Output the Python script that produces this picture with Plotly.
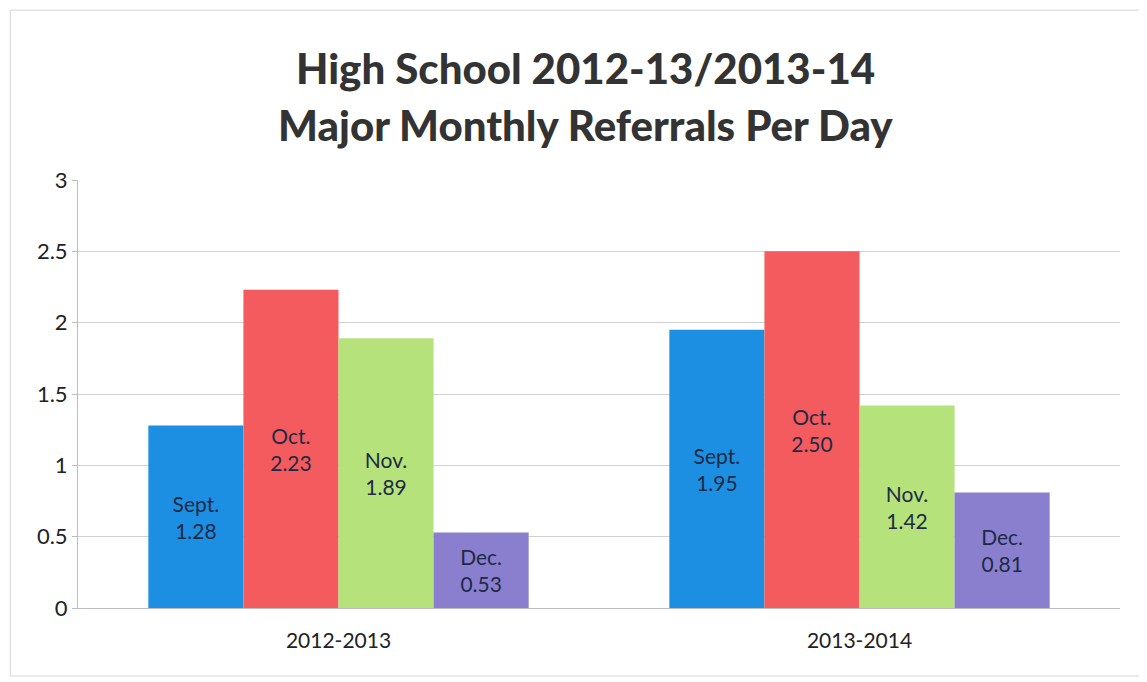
import plotly.graph_objects as go

years = ["2012-2013", "2013-2014"]
months = ["Sept.", "Oct.", "Nov.", "Dec."]
values = {
    "Sept.": [1.28, 1.95],
    "Oct.": [2.23, 2.50],
    "Nov.": [1.89, 1.42],
    "Dec.": [0.53, 0.81],
}
colors = ["#1c8fe2", "#f45b5e", "#b6e27c", "#8a7fcf"]
y_ticks = [0, 0.5, 1, 1.5, 2, 2.5, 3]
title_lines = ["High School 2012-13/2013-14", "Major Monthly Referrals Per Day"]

FONT = "Lato, Liberation Sans, Arial"

fig = go.Figure()
for m, c in zip(months, colors):
    vals = values[m]
    fig.add_trace(go.Bar(
        x=years, y=vals, name=m, marker=dict(color=c, line=dict(width=0)),
        text=[f"{m}<br>{v:.2f}" for v in vals],
        textposition="inside", insidetextanchor="middle",
        textfont=dict(family=FONT, size=21, color="#1e2a44"),
        cliponaxis=False,
    ))

fig.update_layout(
    width=1147, height=682,
    barmode="group", bargap=0.27, bargroupgap=0,
    paper_bgcolor="white", plot_bgcolor="white",
    showlegend=False,
    margin=dict(l=70, r=35, t=172, b=82),
    uniformtext=dict(mode=False),
)
for txt, yy in zip(title_lines, [1.262, 1.128]):
    fig.add_annotation(text=txt, xref="paper", yref="paper", x=0.487, y=yy,
                       xanchor="center", yanchor="middle", showarrow=False,
                       font=dict(family=FONT, size=42, color="#333333", weight=900))
fig.update_yaxes(
    range=[0, 3], tickvals=y_ticks, ticktext=[f"{t:g}" for t in y_ticks],
    showgrid=True, gridcolor="#d0d0d0", gridwidth=1,
    zeroline=False, showline=True, linecolor="#bdbdbd",
    ticks="outside", ticklen=5, tickcolor="#bdbdbd",
    tickfont=dict(family=FONT, size=22, color="#222222"),
)
fig.update_xaxes(
    showline=True, linecolor="#bdbdbd", ticks="",
    ticklabelstandoff=14,
    tickfont=dict(family=FONT, size=21, color="#222222"),
)
fig.add_shape(type="rect", xref="paper", yref="paper", x0=-0.065, x1=1.025, y0=-0.159, y1=1.397,
              line=dict(color="#d6d6d6", width=1))

fig.write_html("out.html")
